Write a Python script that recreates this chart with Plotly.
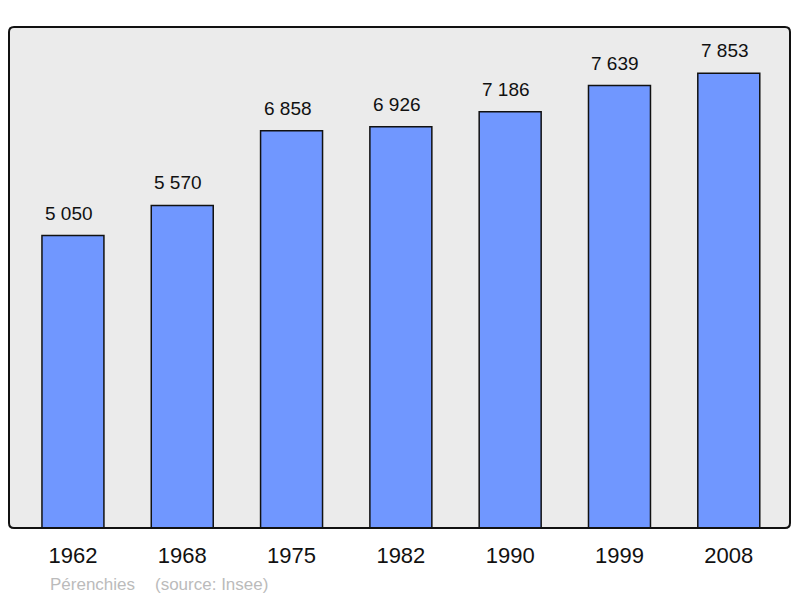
import plotly.graph_objects as go

years = ["1962", "1968", "1975", "1982", "1990", "1999", "2008"]
population = [5050, 5570, 6858, 6926, 7186, 7639, 7853]
value_labels = ["5 050", "5 570", "6 858", "6 926", "7 186", "7 639", "7 853"]
footer_place = "Pérenchies"
footer_source = "(source: Insee)"

xs = list(range(len(years)))
FONT = "Liberation Sans, Arial, sans-serif"

# page body has an 8px margin; figure is sized to fit the window exactly
OFF = 8
W, H = 800 - OFF, 598 - OFF
L, R, T, B = 9 - OFF, 10, 27 - OFF, 70
PW, PH = W - L - R, H - T - B

fig = go.Figure()
fig.add_trace(go.Bar(
    x=xs, y=population, width=0.567,
    marker=dict(color="#7097ff", line=dict(color="#111111", width=1.5)),
    hoverinfo="skip",
))

for x, v, t in zip(xs, population, value_labels):
    fig.add_annotation(x=x, y=v, text=t, showarrow=False, yanchor="bottom",
                       yshift=10, xshift=-4,
                       font=dict(family=FONT, size=19, color="#111111"))

fy = -(584 - 528) / PH
fig.add_annotation(xref="paper", yref="paper", x=(48 - 9) / PW, y=fy,
                   xanchor="left", yanchor="middle", showarrow=False,
                   text=footer_place, font=dict(family=FONT, size=17, color="#bbbbbb"))
fig.add_annotation(xref="paper", yref="paper", x=(153 - 9) / PW, y=fy,
                   xanchor="left", yanchor="middle", showarrow=False,
                   text=footer_source, font=dict(family=FONT, size=17, color="#bbbbbb"))

rx, ry = 5 / PW, 5 / PH
path = (f"M {rx},0 L {1-rx},0 Q 1,0 1,{ry} L 1,{1-ry} Q 1,1 {1-rx},1 "
        f"L {rx},1 Q 0,1 0,{1-ry} L 0,{ry} Q 0,0 {rx},0 Z")
fig.add_shape(type="path", xref="paper", yref="paper", path=path,
              line=dict(color="#111111", width=2), layer="above")

fig.update_layout(
    width=W, height=H,
    margin=dict(l=L, r=R, t=T, b=B),
    paper_bgcolor="white", plot_bgcolor="#ebebeb",
    showlegend=False,
    xaxis=dict(range=[-0.585, 6.56], tickvals=xs, ticktext=years, ticks="",
               showgrid=False, zeroline=False, showline=False,
               tickfont=dict(family=FONT, size=22, color="#111111"),
               ticklabelstandoff=12, fixedrange=True),
    yaxis=dict(range=[0, 8650], showticklabels=False, showgrid=False,
               zeroline=False, showline=False, fixedrange=True),
)

fig.write_html("out.html")
